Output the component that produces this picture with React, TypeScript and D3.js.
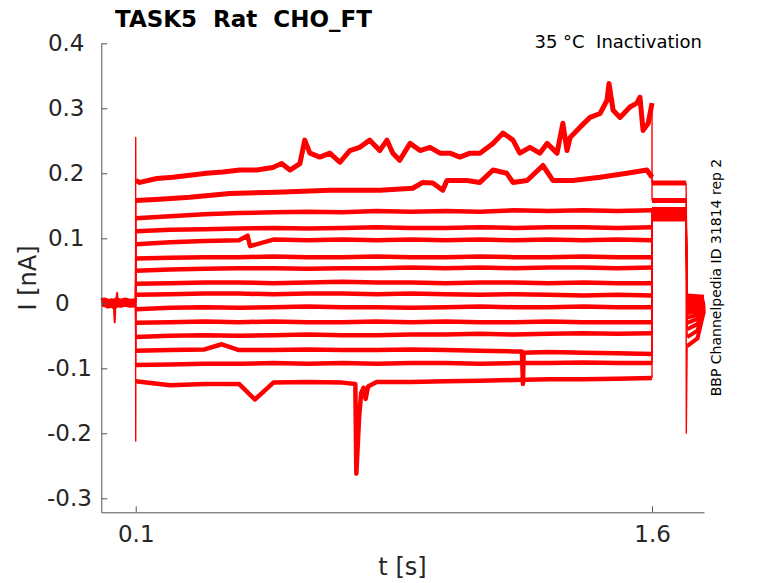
import React, { useEffect, useRef } from 'react';
import * as d3 from 'd3';

type Pt = [number, number];

const yTicks = [-0.3, -0.2, -0.1, 0, 0.1, 0.2, 0.3, 0.4];
const xTicks = [0.1, 1.6];

// holding level before the step, all sweeps on top of each other
const holdTrace: Pt[] = [
  [0, 0.001], [0.01, 0.002], [0.02, -0.001], [0.03, 0.001], [0.037, -0.002],
  [0.045, 0.002], [0.055, 0.0], [0.07, 0.002], [0.085, 0.0], [0.0995, 0.001],
];
// narrow excursions during the hold
const holdGlitch: Pt[] = [
  [0.036, -0.002], [0.039, -0.029], [0.041, -0.003], [0.046, 0.016], [0.048, 0.0],
];

// sweep 1 (largest, drifting up)
const topTrace: Pt[] = [
  [0.1003, 0.189], [0.112, 0.186], [0.161, 0.192], [0.208, 0.194], [0.257, 0.197],
  [0.306, 0.2], [0.353, 0.202], [0.402, 0.205], [0.452, 0.205], [0.498, 0.209],
  [0.524, 0.215], [0.548, 0.205], [0.577, 0.215], [0.591, 0.251], [0.606, 0.231],
  [0.635, 0.225], [0.664, 0.231], [0.693, 0.217], [0.722, 0.235], [0.751, 0.24],
  [0.78, 0.251], [0.809, 0.235], [0.83, 0.251], [0.847, 0.231], [0.867, 0.22],
  [0.897, 0.246], [0.926, 0.235], [0.955, 0.24], [0.984, 0.231], [1.013, 0.231],
  [1.042, 0.225], [1.071, 0.231], [1.1, 0.231], [1.138, 0.246], [1.167, 0.262],
  [1.196, 0.251], [1.216, 0.231], [1.245, 0.24], [1.274, 0.231], [1.295, 0.246],
  [1.324, 0.231], [1.341, 0.277], [1.353, 0.235], [1.362, 0.255], [1.391, 0.271],
  [1.42, 0.286], [1.449, 0.292], [1.469, 0.312], [1.475, 0.338], [1.487, 0.297],
  [1.507, 0.286], [1.536, 0.302], [1.556, 0.308], [1.565, 0.317], [1.574, 0.266],
  [1.589, 0.277], [1.6, 0.308],
];

// sweep 2
const secondTrace: Pt[] = [
  [0.1003, 0.158], [0.17, 0.16], [0.257, 0.163], [0.373, 0.169], [0.51, 0.171],
  [0.664, 0.174], [0.809, 0.174], [0.905, 0.177], [0.934, 0.186], [0.963, 0.185],
  [0.992, 0.174], [1.004, 0.189], [1.062, 0.189], [1.1, 0.186], [1.138, 0.205],
  [1.178, 0.2], [1.196, 0.186], [1.237, 0.189], [1.283, 0.212], [1.312, 0.189],
  [1.37, 0.189], [1.449, 0.194], [1.527, 0.2], [1.585, 0.205], [1.6, 0.194],
];

// sweeps 3..15 sampled on a common grid
const stepTimes = [0.1003, 0.2, 0.3, 0.4, 0.5, 0.6, 0.7, 0.8, 0.9, 1.0, 1.1, 1.2, 1.3, 1.4, 1.5, 1.6];
const flatLevels: number[][] = [
  [0.131, 0.134, 0.137, 0.139, 0.14, 0.141, 0.14, 0.142, 0.141, 0.142, 0.141, 0.143, 0.142, 0.143, 0.142, 0.143],
  [0.111, 0.113, 0.114, 0.115, 0.116, 0.115, 0.116, 0.117, 0.116, 0.116, 0.117, 0.116, 0.117, 0.117, 0.116, 0.117],
  [0.091, 0.094, 0.096, 0.097, 0.098, 0.097, 0.098, 0.097, 0.098, 0.097, 0.098, 0.097, 0.098, 0.097, 0.098, 0.097],
  [0.069, 0.07, 0.071, 0.071, 0.072, 0.071, 0.071, 0.072, 0.071, 0.071, 0.072, 0.071, 0.071, 0.072, 0.071, 0.071],
  [0.05, 0.052, 0.053, 0.054, 0.054, 0.053, 0.054, 0.054, 0.055, 0.054, 0.055, 0.054, 0.055, 0.055, 0.054, 0.055],
  [0.03, 0.031, 0.032, 0.032, 0.031, 0.032, 0.033, 0.032, 0.032, 0.031, 0.032, 0.032, 0.031, 0.032, 0.031, 0.031],
  [0.013, 0.014, 0.015, 0.015, 0.014, 0.015, 0.015, 0.014, 0.015, 0.014, 0.013, 0.014, 0.013, 0.012, 0.013, 0.012],
  [-0.009, -0.007, -0.006, -0.007, -0.006, -0.005, -0.006, -0.006, -0.007, -0.006, -0.005, -0.006, -0.006, -0.005, -0.006, -0.006],
  [-0.03, -0.029, -0.028, -0.029, -0.028, -0.029, -0.029, -0.028, -0.029, -0.028, -0.029, -0.029, -0.028, -0.029, -0.029, -0.029],
  [-0.052, -0.05, -0.049, -0.05, -0.049, -0.048, -0.049, -0.049, -0.048, -0.048, -0.047, -0.048, -0.047, -0.046, -0.047, -0.046],
  [-0.073, -0.072, -0.071, -0.072, -0.072, -0.071, -0.072, -0.072, -0.071, -0.072, -0.073, -0.074, -0.075, -0.076, -0.077, -0.078],
  [-0.095, -0.094, -0.093, -0.093, -0.092, -0.093, -0.092, -0.093, -0.092, -0.092, -0.093, -0.092, -0.092, -0.091, -0.092, -0.092],
  [-0.12, -0.126, -0.124, -0.124, -0.122, -0.121, -0.122, -0.121, -0.121, -0.12, -0.119, -0.118, -0.117, -0.117, -0.116, -0.115],
];

// single excursions: [sweep index, t, I]
const glitches: [number, number, number][] = [
  [4, 0.425, 0.104], [4, 0.432, 0.088],
  [12, 0.35, -0.063],
  [12, 1.222, -0.074], [12, 1.225, -0.124], [12, 1.227, -0.076],
  [14, 0.446, -0.148],
  [14, 0.738, -0.124], [14, 0.741, -0.262], [14, 0.743, -0.24], [14, 0.749, -0.175],
  [14, 0.755, -0.138], [14, 0.762, -0.13], [14, 0.768, -0.147], [14, 0.775, -0.128],
];

const onsetPeaks: (number | null)[] = [0.255, null, null, null, null, null, null, null, null, null, null, null, null, null, -0.212];
const tailLevels = [0.185, 0.158, 0.146, 0.144, 0.143, 0.141, 0.14, 0.139, 0.138, 0.137, 0.136, 0.134, 0.132, 0.13, 0.128];
const offsetPeaks: (number | null)[] = [null, null, null, null, null, null, null, null, null, null, null, null, null, null, -0.2];
const recoveryStart = [0.012, 0.01, 0.008, 0.006, 0.004, 0.002, 0, -0.004, -0.009, -0.015, -0.022, -0.03, -0.04, -0.052, -0.066];
const recoveryMid = [0.011, 0.009, 0.007, 0.005, 0.003, 0.001, -0.002, -0.005, -0.009, -0.013, -0.018, -0.024, -0.032, -0.042, -0.054];
const recoveryEnd = [0.01, 0.009, 0.008, 0.007, 0.006, 0.005, 0.004, 0.003, 0.002, 0, -0.002, -0.004, -0.006, -0.009, -0.012];

const W = 778;
const H = 583;

interface Segment { pts: Pt[]; width: number }

function sweepSegments(i: number): Segment[] {
  let body: Pt[];
  if (i === 0) body = topTrace.slice();
  else if (i === 1) body = secondTrace.slice();
  else body = stepTimes.map((t, k) => [t, flatLevels[i - 2][k]] as Pt);
  glitches.filter(g => g[0] === i).forEach(g => body.push([g[1], g[2]]));
  body.sort((a, b) => a[0] - b[0]);

  const onset: Pt[] = [[0.0995, 0]];
  const peak = onsetPeaks[i];
  if (peak !== null) onset.push([0.1, peak]);
  onset.push(body[0]);

  const last = body[body.length - 1];
  const tail: Pt[] = [[1.6, tailLevels[i]], [1.65, tailLevels[i]], [1.699, tailLevels[i]]];

  const drop: Pt[] = [[1.699, tailLevels[i]]];
  const off = offsetPeaks[i];
  if (off !== null) drop.push([1.6995, off]);
  drop.push([1.702, recoveryStart[i]]);

  const recovery: Pt[] = [[1.702, recoveryStart[i]], [1.732, recoveryMid[i]], [1.751, recoveryEnd[i]]];
  const bodyWidth = i < 2 ? 5 : 4.5;

  return [
    { pts: onset, width: 1.4 },
    { pts: body, width: bodyWidth },
    { pts: [last, tail[0]], width: 1.4 },
    { pts: tail, width: i < 2 ? 5 : 3 },
    { pts: drop, width: 1.4 },
    { pts: recovery, width: 4 },
  ];
}

const App: React.FC = () => {
  const svgRef = useRef<SVGSVGElement>(null);

  useEffect(() => {
    if (!svgRef.current) return;
    const svg = d3.select(svgRef.current);
    svg.selectAll('*').remove();

    const x = d3.scaleLinear().domain([0, 1.751]).range([101.3, 704]);
    const y = d3.scaleLinear().domain([-0.3215, 0.4]).range([512.3, 43.3]);

    const line = d3.line<Pt>().x(d => x(d[0])).y(d => y(d[1]));

    const traces = svg.append('g')
      .attr('fill', 'none')
      .attr('stroke', '#ff0000')
      .attr('stroke-linejoin', 'round');

    traces.append('path')
      .attr('d', line(holdTrace))
      .attr('stroke-width', 9);
    traces.append('path')
      .attr('d', line(holdGlitch))
      .attr('stroke-width', 2);

    d3.range(15).forEach(i => {
      sweepSegments(i).forEach(seg => {
        traces.append('path')
          .attr('d', line(seg.pts))
          .attr('stroke-width', seg.width);
      });
    });

    // axes
    const yAxis = svg.append('g')
      .attr('transform', 'translate(101.3,0)')
      .call(d3.axisLeft(y).tickValues(yTicks).tickSizeInner(-6).tickSizeOuter(0).tickFormat(d => `${d}`));
    const xAxis = svg.append('g')
      .attr('transform', 'translate(0,512.3)')
      .call(d3.axisBottom(x).tickValues(xTicks).tickSizeInner(-6).tickSizeOuter(0).tickPadding(13).tickFormat(d => `${d}`));

    [yAxis, xAxis].forEach(a => {
      a.select('.domain').attr('stroke', '#555');
      a.selectAll('.tick line').attr('stroke', '#555');
      a.selectAll('.tick text')
        .attr('fill', '#262626')
        .style('font-size', '23px')
        .style('font-family', '"DejaVu Sans"');
    });
    yAxis.selectAll<SVGTextElement, number>('.tick text')
      .attr('text-anchor', 'middle')
      .attr('x', d => (d < 0 ? 69.5 : d === 0 ? 62.2 : 66.2) - 101.3);

    const txt = svg.append('g').style('font-family', '"DejaVu Sans"').attr('fill', '#000');
    txt.append('text')
      .attr('x', 115).attr('y', 27)
      .style('font-size', '23px').style('font-weight', 'bold').style('white-space', 'pre')
      .text('TASK5  Rat  CHO_FT');
    txt.append('text')
      .attr('x', 702).attr('y', 48).attr('text-anchor', 'end')
      .style('font-size', '18px').style('white-space', 'pre')
      .text('35 °C  Inactivation');
    txt.append('text')
      .attr('transform', 'translate(721,277.5) rotate(-90)').attr('text-anchor', 'middle')
      .style('font-size', '14px')
      .text('BBP Channelpedia ID 31814 rep 2');
    txt.append('text')
      .attr('transform', 'translate(36,278) rotate(-90)').attr('text-anchor', 'middle')
      .attr('fill', '#262626')
      .style('font-size', '24px')
      .text('I [nA]');
    txt.append('text')
      .attr('x', 402.5).attr('y', 575).attr('text-anchor', 'middle')
      .attr('fill', '#262626')
      .style('font-size', '24px')
      .text('t [s]');
  }, []);

  return (
    <div style={{ position: 'absolute', left: 0, top: 0 }}>
      <svg ref={svgRef} width={W} height={H} style={{ display: 'block', background: '#fff' }} />
    </div>
  );
};

export default App;
